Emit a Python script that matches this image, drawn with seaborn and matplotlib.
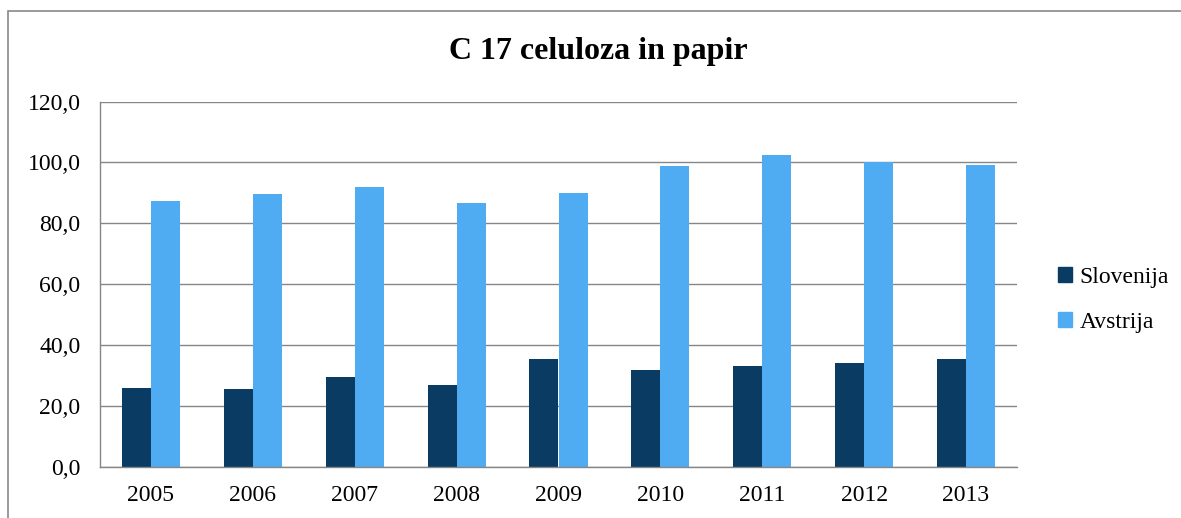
import matplotlib.pyplot as plt
import matplotlib.patches as mpatches
import pandas as pd
import seaborn as sns

years = ['2005', '2006', '2007', '2008', '2009', '2010', '2011', '2012', '2013']
slovenija = [26.0, 25.7, 29.5, 27.0, 35.6, 32.0, 33.0, 34.2, 35.5]
avstrija = [87.2, 89.5, 91.8, 86.7, 90.1, 98.8, 102.5, 100.3, 99.0]
countries = ['Slovenija', 'Avstrija']
colors = ['#0A3B63', '#4FACF3']

df = pd.DataFrame({
    'leto': years * 2,
    'drzava': ['Slovenija'] * len(years) + ['Avstrija'] * len(years),
    'vrednost': slovenija + avstrija,
})

sns.set_theme(style='white')
plt.rcParams['font.family'] = ['Liberation Serif', 'DejaVu Serif']
plt.rcParams['text.color'] = 'black'

fig = plt.figure(figsize=(11.81, 5.18), dpi=100)
ax = fig.add_axes([100 / 1181, 1 - 467 / 518, (1017 - 100) / 1181, (467 - 101.5) / 518])

sns.barplot(data=df, x='leto', y='vrednost', hue='drzava', hue_order=countries,
            palette=colors, width=0.57, gap=0, saturation=1, ax=ax,
            edgecolor='none', linewidth=0)

ax.set_ylim(0, 120)
ax.set_xlim(-0.5, len(years) - 0.5)
ax.set_yticks(range(0, 121, 20))
ax.set_yticklabels([f'{v},0' for v in range(0, 121, 20)])
ax.yaxis.grid(True, color='#868686', linewidth=1)
ax.set_axisbelow(True)
for s in ['top', 'right']:
    ax.spines[s].set_visible(False)
ax.spines['left'].set_color('#868686')
ax.spines['bottom'].set_color('#868686')
ax.spines['left'].set_linewidth(1)
ax.spines['bottom'].set_linewidth(1)
ax.tick_params(axis='both', length=0, labelsize=17, labelcolor='black')
ax.tick_params(axis='y', pad=14)
ax.tick_params(axis='x', pad=13)
ax.set_xlabel('')
ax.set_ylabel('')

handles = [mpatches.Patch(color=c, label=n) for c, n in zip(colors, countries)]
leg = ax.legend(handles=handles, loc='center left', bbox_to_anchor=(1037 / 1181, 1 - 300 / 518),
                bbox_transform=fig.transFigure, frameon=False, fontsize=17,
                handlelength=0.6, handleheight=0.6, handletextpad=0.3, labelspacing=1.0)
for t in leg.get_texts():
    t.set_color('black')

fig.text(598 / 1181, 1 - 52 / 518, 'C 17 celuloza in papir', ha='center', va='center',
         fontsize=23, fontweight='bold', color='black')

fig.patches.append(mpatches.Rectangle((8 / 1181, -0.1), 1.2, 1.1 - 11 / 518,
                                      transform=fig.transFigure, fill=False,
                                      edgecolor='#898989', linewidth=1.2))

fig.savefig('out.png', dpi=100)
